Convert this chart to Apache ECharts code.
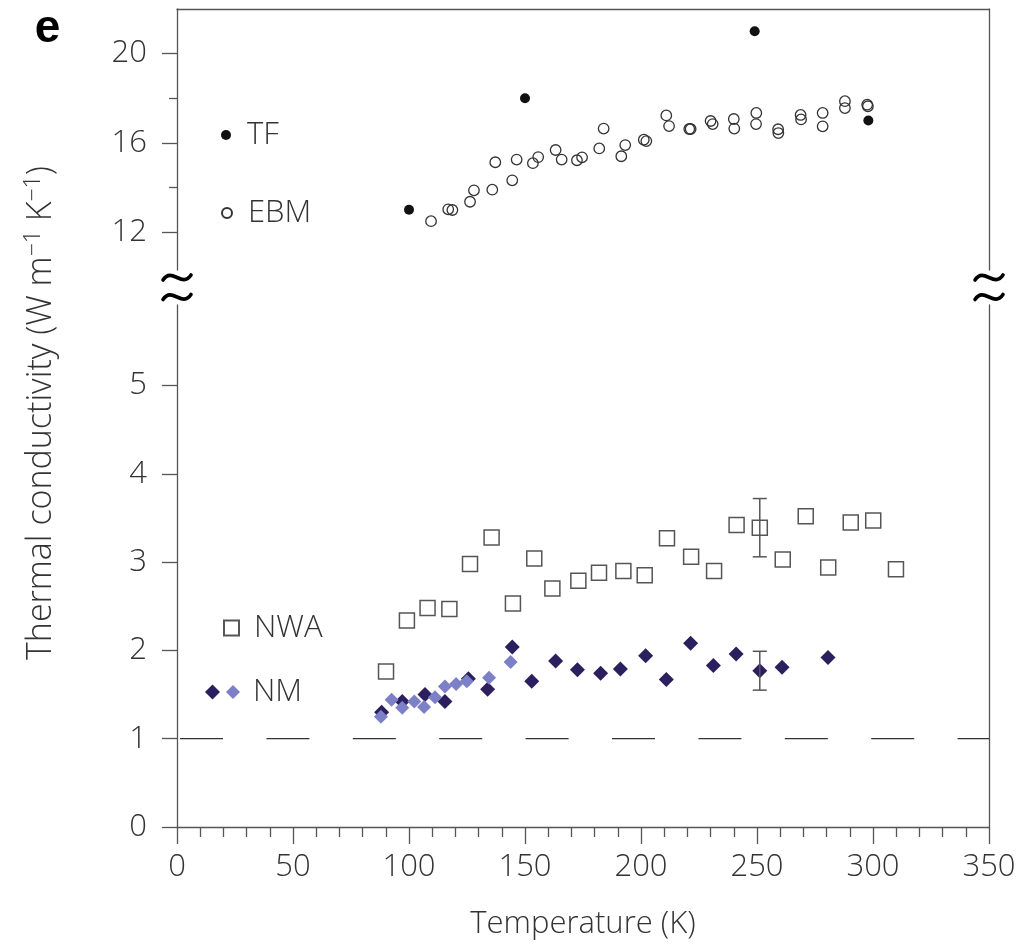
<!DOCTYPE html>
<html><head><meta charset="utf-8">
<script src="https://cdn.jsdelivr.net/npm/echarts@6.0.0/dist/echarts.min.js"></script>
<style>html,body{margin:0;padding:0;background:#fff}#c{width:1032px;height:949px}</style>
</head><body><div id="c"></div>
<script>
// ---------- data ----------
const tfT = [100, 150, 249, 298];
const tfK = [13.0, 18.0, 21.0, 17.0];

const ebmT = [109.5, 116.9, 118.7, 126.3, 128.0, 135.9, 137.2, 144.5, 146.4, 153.4, 155.7, 163.2, 165.8, 172.4, 174.6, 182.0, 183.9, 191.5, 193.2, 201.2, 202.3, 210.9, 212.1, 220.8, 221.4, 230.0, 230.9, 240.0, 240.2, 249.7, 249.6, 259.1, 259.2, 268.8, 269.0, 278.3, 278.3, 287.9, 287.9, 297.5, 297.8];
const ebmK = [12.49, 13.02, 12.99, 13.36, 13.87, 13.90, 15.13, 14.32, 15.25, 15.09, 15.36, 15.68, 15.25, 15.22, 15.35, 15.75, 16.64, 15.40, 15.90, 16.14, 16.08, 17.23, 16.75, 16.62, 16.62, 16.98, 16.84, 17.07, 16.64, 17.34, 16.84, 16.61, 16.44, 17.25, 17.05, 17.34, 16.74, 17.87, 17.56, 17.71, 17.64];

const nwaT = [90.1, 99.1, 108.0, 117.4, 126.3, 135.6, 144.8, 154.0, 161.8, 173.0, 181.9, 192.4, 201.6, 211.2, 221.6, 231.5, 241.2, 251.2, 261.1, 271.0, 280.7, 290.4, 300.1, 309.9];
const nwaK = [1.76, 2.34, 2.48, 2.47, 2.98, 3.28, 2.53, 3.04, 2.70, 2.79, 2.88, 2.90, 2.85, 3.27, 3.06, 2.90, 3.42, 3.39, 3.03, 3.52, 2.94, 3.45, 3.47, 2.92];

const nmDarkT = [88.2, 97.1, 106.9, 115.5, 125.6, 133.9, 144.5, 152.9, 163.2, 172.6, 182.6, 191.1, 202.0, 210.9, 221.4, 231.2, 241.0, 251.2, 260.8, 280.6];
const nmDarkK = [1.30, 1.42, 1.50, 1.42, 1.68, 1.56, 2.04, 1.65, 1.88, 1.78, 1.74, 1.79, 1.94, 1.67, 2.08, 1.83, 1.96, 1.77, 1.81, 1.92];

const nmLightT = [87.9, 92.5, 97.1, 102.3, 106.5, 111.2, 115.5, 120.3, 124.9, 134.5, 143.8];
const nmLightK = [1.25, 1.44, 1.35, 1.42, 1.36, 1.47, 1.59, 1.62, 1.65, 1.69, 1.87];

// error bars: [T, low, high]
const nwaErr = [251.2, 3.06, 3.72];
const nmErr = [251.2, 1.55, 1.99];

const refLineK = 1;
const xTicks = [0, 50, 100, 150, 200, 250, 300, 350];
const topMajorTicks = [12, 16, 20];
const topMinorTicks = [14, 18];
const botMajorTicks = [0, 1, 2, 3, 4, 5];
const topRange = [10.3, 22];
const botRange = [0, 5.912];

// ---------- layout / style ----------
const L = 177, R = 43;
const gTop = {top: 9, height: 261};
const gBot = {top: 305, height: 522};
const FONT = "'Open Sans', 'Noto Sans', sans-serif";
const AX = '#555';
const TXT = '#333';
const lbl = {fontSize: 31, color: TXT, fontFamily: FONT, fontWeight: 300};
const zip = (a, b) => a.map((v, i) => [v, b[i]]);

const chart = echarts.init(document.getElementById('c'), null, {renderer: 'canvas'});

function errRender(params, api) {
  const x = api.value(0), lo = api.value(1), hi = api.value(2);
  const a = api.coord([x, lo]), b = api.coord([x, hi]);
  const w = 7;
  const st = {stroke: '#555', lineWidth: 1.5};
  return {type: 'group', children: [
    {type: 'line', shape: {x1: a[0], y1: a[1], x2: b[0], y2: b[1]}, style: st},
    {type: 'line', shape: {x1: a[0] - w, y1: a[1], x2: a[0] + w, y2: a[1]}, style: st},
    {type: 'line', shape: {x1: b[0] - w, y1: b[1], x2: b[0] + w, y2: b[1]}, style: st}
  ]};
}

const lineStyle = {color: AX, width: 1.3};
const hidden = {show: false};

function legendBox(name, left, top, w, h, padLeft, fmt) {
  return {
    show: true, left: left, top: top, padding: 0, orient: 'vertical',
    data: [name], itemWidth: w, itemHeight: h, selectedMode: false,
    formatter: fmt || (n => n),
    textStyle: Object.assign({}, lbl, {lineHeight: 32, padding: [0, 0, 0, padLeft]})
  };
}

// break symbol positions
const W = 1032;
const tildeY = [277.5, 297];
const tildeX = [L, W - R];
const tildes = [];
tildeX.forEach(x => tildeY.forEach(y => {
  tildes.push({
    type: 'bezierCurve',
    shape: {x1: x - 14, y1: y + 2.5, cpx1: x - 5, cpy1: y - 11, cpx2: x + 5, cpy2: y + 11, x2: x + 14, y2: y - 2.5},
    style: {stroke: '#000', lineWidth: 3.6, fill: null, lineCap: 'round'},
    silent: true
  });
}));

const option = {
  animation: false,
  backgroundColor: '#fff',
  grid: [
    {left: L, right: R, top: gTop.top, height: gTop.height},
    {left: L, right: R, top: gBot.top, height: gBot.height}
  ],
  xAxis: [
    {gridIndex: 0, type: 'value', min: xTicks[0], max: xTicks[xTicks.length - 1], position: 'top',
     axisLine: {show: true, onZero: false, lineStyle}, axisTick: hidden, axisLabel: hidden, splitLine: hidden},
    {gridIndex: 1, type: 'value', min: xTicks[0], max: xTicks[xTicks.length - 1], interval: 50, position: 'bottom',
     axisLine: {show: true, onZero: false, lineStyle},
     axisTick: {show: true, inside: false, length: 17, lineStyle},
     minorTick: {show: true, splitNumber: 5, length: 10, lineStyle},
     axisLabel: Object.assign({margin: 25}, lbl),
     splitLine: hidden, minorSplitLine: hidden,
     name: 'Temperature (K)', nameLocation: 'middle', nameGap: 82,
     nameTextStyle: Object.assign({}, lbl)}
  ],
  yAxis: [
    {gridIndex: 0, type: 'value', min: topRange[0], max: topRange[1], position: 'left',
     axisLine: {show: true, onZero: false, lineStyle},
     axisTick: {show: true, length: 15, customValues: topMajorTicks, lineStyle},
     axisLabel: Object.assign({margin: 30, customValues: topMajorTicks}, lbl),
     splitLine: hidden},
    {gridIndex: 0, type: 'value', min: topRange[0], max: topRange[1], position: 'left',
     axisLine: {show: false},
     axisTick: {show: true, length: 8, customValues: topMinorTicks, lineStyle},
     axisLabel: hidden, splitLine: hidden},
    {gridIndex: 0, type: 'value', min: topRange[0], max: topRange[1], position: 'right',
     axisLine: {show: true, onZero: false, lineStyle}, axisTick: hidden, axisLabel: hidden, splitLine: hidden},
    {gridIndex: 1, type: 'value', min: botRange[0], max: botRange[1], position: 'left',
     axisLine: {show: true, onZero: false, lineStyle},
     axisTick: {show: true, length: 15, customValues: botMajorTicks, lineStyle},
     axisLabel: Object.assign({margin: 30, customValues: botMajorTicks}, lbl),
     splitLine: hidden},
    {gridIndex: 1, type: 'value', min: botRange[0], max: botRange[1], position: 'right',
     axisLine: {show: true, onZero: false, lineStyle}, axisTick: hidden, axisLabel: hidden, splitLine: hidden}
  ],
  legend: [
    legendBox('TF', 221, 119, 10, 10, 11),
    legendBox('EBM', 221, 197, 10, 10, 11),
    legendBox('NWA', 223, 612, 15, 15, 10),
    legendBox('NM1', 205, 676, 15, 15, 0, () => ' '),
    legendBox('NM2', 226, 676, 14, 14, 8, () => 'NM')
  ],
  series: [
    {name: 'refline', type: 'line', xAxisIndex: 1, yAxisIndex: 3, data: [[xTicks[0], refLineK], [xTicks[xTicks.length - 1], refLineK]],
     symbol: 'none', silent: true, z: 1,
     lineStyle: {color: '#333', width: 1.3, type: [43, 43.4], dashOffset: 83.4}},
    {name: 'TF', type: 'scatter', xAxisIndex: 0, yAxisIndex: 0, data: zip(tfT, tfK),
     symbol: 'circle', symbolSize: 10, itemStyle: {color: '#111', opacity: 1}, z: 3},
    {name: 'EBM', type: 'scatter', xAxisIndex: 0, yAxisIndex: 0, data: zip(ebmT, ebmK),
     symbol: 'circle', symbolSize: 10.5, itemStyle: {color: 'rgba(255,255,255,0)', borderColor: '#333', borderWidth: 1.3, opacity: 1}, z: 2},
    {name: 'NWA', type: 'scatter', xAxisIndex: 1, yAxisIndex: 3, data: zip(nwaT, nwaK),
     symbol: 'rect', symbolSize: 15, itemStyle: {color: 'rgba(255,255,255,0)', borderColor: '#555', borderWidth: 1.5, opacity: 1}, z: 2},
    {name: 'NM1', type: 'scatter', xAxisIndex: 1, yAxisIndex: 3, data: zip(nmDarkT, nmDarkK),
     symbol: 'diamond', symbolSize: 15, itemStyle: {color: '#2c1f5e', opacity: 1}, z: 3},
    {name: 'NM2', type: 'scatter', xAxisIndex: 1, yAxisIndex: 3, data: zip(nmLightT, nmLightK),
     symbol: 'diamond', symbolSize: 14, itemStyle: {color: '#7c80c6', opacity: 1}, z: 4},
    {name: 'err', type: 'custom', xAxisIndex: 1, yAxisIndex: 3, data: [nwaErr, nmErr],
     renderItem: errRender, encode: {x: 0, y: [1, 2]}, silent: true, z: 5}
  ],
  graphic: [
    {type: 'text', x: 47.5, y: 52, silent: true,
     style: {text: 'e', font: "bold 46px 'Liberation Sans', Arial, sans-serif", fill: '#000', textAlign: 'center', textVerticalAlign: 'bottom'}},
    {type: 'text', x: 40, y: 413, rotation: Math.PI / 2, silent: true,
     style: {
       text: '{a|Thermal conductivity (W m}{s|\u22121}{a| K}{s|\u22121}{a|)}',
       textAlign: 'center', textVerticalAlign: 'middle',
       rich: {
         a: {fontSize: 34, lineHeight: 36, fontFamily: FONT, fontWeight: 300, fill: TXT, verticalAlign: 'bottom'},
         s: {fontSize: 23, lineHeight: 23, fontFamily: FONT, fontWeight: 300, fill: TXT, verticalAlign: 'top'}
       }
     }}
  ].concat(tildes)
};
chart.setOption(option);
</script>
</body></html>
